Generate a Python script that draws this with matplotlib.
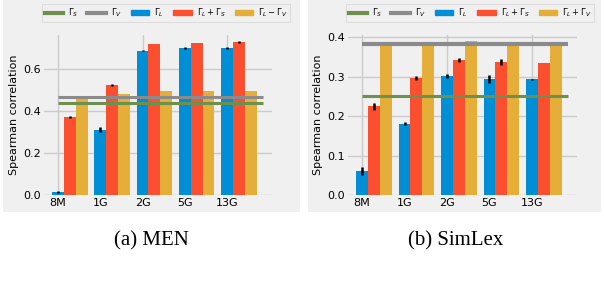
import numpy as np
import matplotlib
matplotlib.use("Agg")
import matplotlib.pyplot as plt
from matplotlib.patches import Rectangle, Patch
from matplotlib.lines import Line2D

corpus_sizes = ['8M', '1G', '2G', '5G', '13G']

# MEN
men_L = [0.014, 0.310, 0.687, 0.700, 0.700]
men_L_err = [0.006, 0.012, 0.002, 0.003, 0.006]
men_LS = [0.371, 0.524, 0.719, 0.726, 0.729]
men_LS_err = [0.003, 0.005, 0.002, 0.0, 0.004]
men_LV = [0.462, 0.481, 0.495, 0.495, 0.495]
men_LV_err = [0.0, 0.002, 0.0, 0.0, 0.0]
men_S = 0.438
men_V = 0.466

# SimLex
sim_L = [0.060, 0.181, 0.302, 0.294, 0.294]
sim_L_err = [0.010, 0.004, 0.005, 0.010, 0.001]
sim_LS = [0.225, 0.296, 0.342, 0.337, 0.335]
sim_LS_err = [0.009, 0.005, 0.005, 0.007, 0.001]
sim_LV = [0.381, 0.381, 0.391, 0.388, 0.388]
sim_LV_err = [0.0, 0.0, 0.001, 0.0, 0.0]
sim_S = 0.251
sim_V = 0.382

blue = '#008fd5'
red = '#fc4f30'
orange = '#e5ae38'
green = '#6d904f'
gray = '#8b8b8b'
bg = '#f0f0f0'
gridc = '#cbcbcb'

W, H = 604, 288
fig = plt.figure(figsize=(W / 100, H / 100), dpi=100)
fig.patch.set_facecolor('white')

# panel backgrounds
fig.patches.append(Rectangle((3 / W, (H - 212) / H), 297 / W, 212 / H,
                             transform=fig.transFigure, facecolor=bg, edgecolor='none', zorder=-5))
fig.patches.append(Rectangle((308 / W, (H - 212) / H), 293 / W, 212 / H,
                             transform=fig.transFigure, facecolor=bg, edgecolor='none', zorder=-5))


def panel(rect, L, Le, LS, LSe, LV, LVe, S, V, ylim, yticks, last_label, vlw):
    ax = fig.add_axes(rect)
    ax.set_facecolor(bg)
    x = np.arange(len(corpus_sizes))
    w = 0.28
    ekw = dict(ecolor='black', elinewidth=1.8, capsize=0)
    ax.bar(x, L, w, yerr=Le, color=blue, error_kw=ekw, zorder=2)
    ax.bar(x + w, LS, w, yerr=LSe, color=red, error_kw=ekw, zorder=2)
    ax.bar(x + 2 * w, LV, w, yerr=LVe, color=orange, error_kw=ekw, zorder=2)
    ax.hlines(S, x[0], x[-1] + 3 * w, color=green, lw=2.2, zorder=3)
    ax.hlines(V, x[0], x[-1] + 3 * w, color=gray, lw=vlw, zorder=3)

    ax.set_xlim(-0.33, 5.06)
    ax.set_ylim(*ylim)
    ax.set_yticks(yticks)
    ax.xaxis.remove_overlapping_locs = False
    ax.set_xticks(x, corpus_sizes)
    ax.set_xticks(x[::2], minor=True)
    ax.tick_params(which='both', length=0, labelsize=8, pad=2)
    ax.grid(True, axis='y', color=gridc, lw=1, zorder=0)
    ax.grid(True, axis='x', which='minor', color=gridc, lw=1, zorder=0)
    ax.set_axisbelow(True)
    for s in ax.spines.values():
        s.set_visible(False)
    ax.set_ylabel('Spearman correlation', fontsize=8, labelpad=3)

    handles = [Line2D([], [], color=green, lw=3),
               Line2D([], [], color=gray, lw=3),
               Patch(color=blue), Patch(color=red), Patch(color=orange)]
    labels = [r'$\Gamma_S$', r'$\Gamma_V$', r'$\Gamma_L$',
              r'$\Gamma_L + \Gamma_S$', last_label]
    leg = ax.legend(handles, labels, ncol=5, loc='lower left',
                    bbox_to_anchor=(-0.01, 1.08), fontsize=6, frameon=True,
                    handlelength=2.2, handleheight=0.6, columnspacing=1.1,
                    handletextpad=0.6, borderpad=0.35, borderaxespad=0,
                    fancybox=False)
    leg.get_frame().set_facecolor(bg)
    leg.get_frame().set_edgecolor('#d9d9d9')
    leg.get_frame().set_linewidth(0.8)
    return ax


ax1 = panel([44 / W, (H - 195) / H, 228 / W, 160 / H],
            men_L, men_L_err, men_LS, men_LS_err, men_LV, men_LV_err,
            men_S, men_V, (0, 0.762), [0.0, 0.2, 0.4, 0.6],
            r'$\Gamma_L - \Gamma_V$', 2.2)
ax2 = panel([348 / W, (H - 195) / H, 229 / W, 160 / H],
            sim_L, sim_L_err, sim_LS, sim_LS_err, sim_LV, sim_LV_err,
            sim_S, sim_V, (0, 0.406), [0.0, 0.1, 0.2, 0.3, 0.4],
            r'$\Gamma_L + \Gamma_V$', 3)

fig.text(151 / W, (H - 241) / H, '(a) MEN', ha='center', va='center',
         family='Liberation Serif', fontsize=15)
fig.text(456 / W, (H - 241) / H, '(b) SimLex', ha='center', va='center',
         family='Liberation Serif', fontsize=15)

fig.savefig('out.png', dpi=100, facecolor='white')
